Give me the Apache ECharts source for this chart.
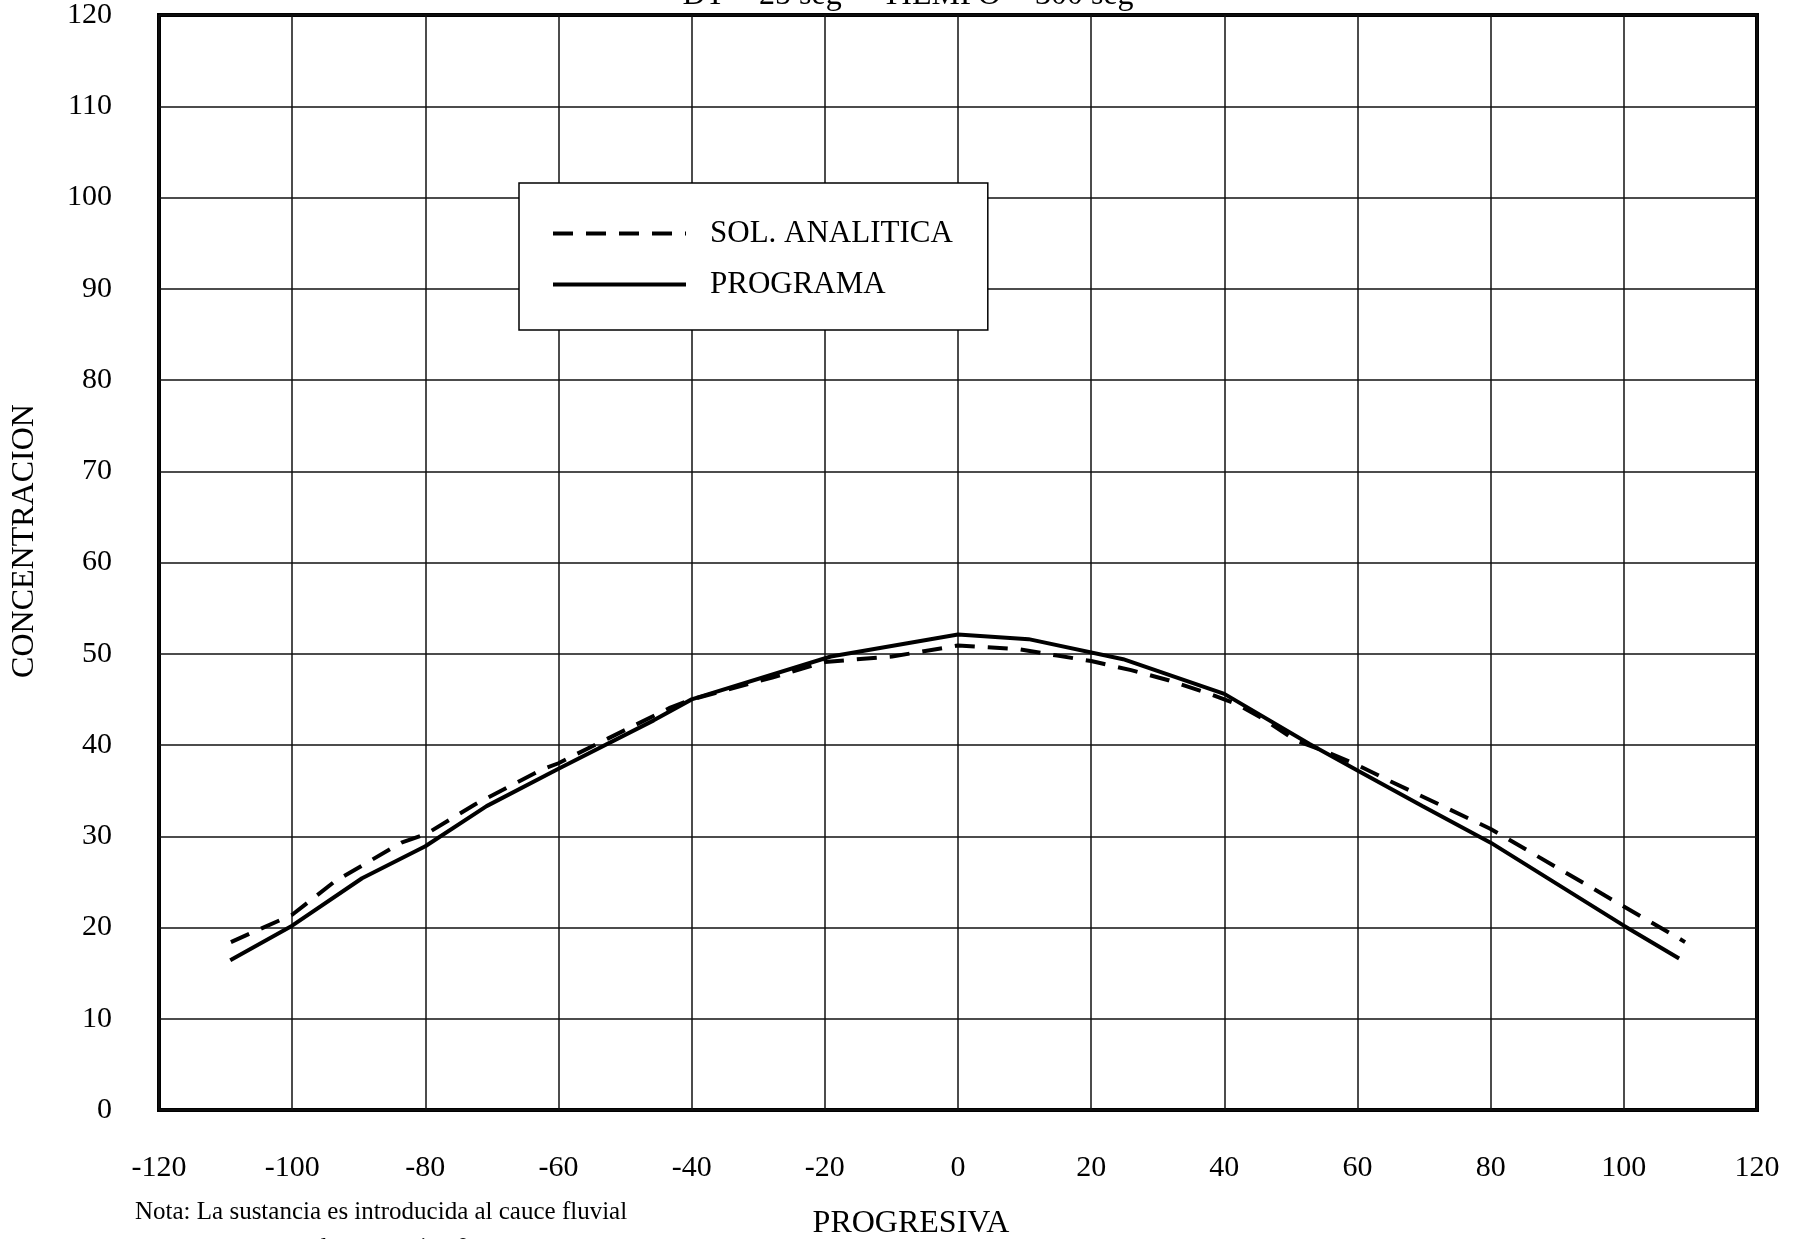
<!DOCTYPE html>
<html>
<head>
<meta charset="utf-8">
<script src="https://cdn.jsdelivr.net/npm/echarts@6/dist/echarts.min.js"></script>
<style>
  html, body { margin: 0; padding: 0; background: #fff; }
  #chart { width: 1797px; height: 1239px; }
</style>
</head>
<body>
<div id="chart"></div>
<script>
// Solucion analitica (linea de trazos)
const analiticaX = [-109.2, -100, -93.7, -83.6, -80, -72.5, -67.8, -62.5, -60, -57.3, -52.6, -47.9, -43.2, -40,
    -27.9, -20, -9.9, 0, 9.1, 14.9, 20, 26, 31.6, 37, 41.8, 46, 50.7, 55.5, 60, 65, 80, 100, 106.9, 109.2];
const analiticaY = [18.4, 21.4, 25.0, 29.3, 30.2, 33.5, 35.3, 37.3, 38.0, 39.0, 40.7, 42.4, 44.1, 45.0,
    47.4, 49.1, 49.7, 50.9, 50.5, 49.8, 49.2, 48.2, 47.1, 45.8, 44.5, 42.8, 40.5, 39.2, 37.8, 36.0, 30.8, 22.3, 19.4, 18.4];

// Resultado del programa (linea continua)
const programaX = [-109.3, -100, -89.5, -80, -70.8, -60, -45.7, -40, -19.1, 0, 10.6, 24.8, 40, 52.8, 60, 69.8, 80, 100, 108.3];
const programaY = [16.4, 20.2, 25.4, 28.9, 33.3, 37.4, 42.7, 45.0, 49.7, 52.1, 51.6, 49.4, 45.6, 40.1, 37.2, 33.3, 29.3, 20.2, 16.6];

const FONT = 'Liberation Serif';

const toPairs = (xs, ys) => xs.map((x, i) => [x, ys[i]]);

const chart = echarts.init(document.getElementById('chart'));

const option = {
    animation: false,
    grid: {
        left: 159,
        right: 40,
        top: 14,
        bottom: 129,
        show: true,
        borderColor: '#000',
        borderWidth: 4,
        backgroundColor: '#fff'
    },
    xAxis: {
        type: 'value',
        min: -120,
        max: 120,
        interval: 20,
        axisLine: { show: false },
        axisTick: { show: false },
        splitLine: { show: true, lineStyle: { color: '#111', width: 1.5 } },
        axisLabel: { margin: 43, color: '#000', fontFamily: FONT, fontSize: 30 }
    },
    yAxis: {
        type: 'value',
        min: 0,
        max: 120,
        interval: 10,
        axisLine: { show: false },
        axisTick: { show: false },
        splitLine: { show: true, lineStyle: { color: '#111', width: 1.5 } },
        axisLabel: { margin: 47, color: '#000', fontFamily: FONT, fontSize: 30 }
    },
    legend: {
        orient: 'vertical',
        left: 519,
        top: 183,
        backgroundColor: '#fff',
        borderColor: '#000',
        borderWidth: 1.5,
        padding: [35, 35, 30, 32],
        itemWidth: 133,
        itemHeight: 30,
        itemGap: 20,
        selectedMode: false,
        // hide the marker, keep only the line
        itemStyle: { opacity: 0 },
        lineStyle: { width: 4 },
        textStyle: { color: '#000', fontFamily: FONT, fontSize: 31, padding: [0, 0, 0, 19] },
        data: ['SOL. ANALITICA', 'PROGRAMA']
    },
    series: [
        {
            name: 'SOL. ANALITICA',
            type: 'line',
            symbol: 'none',
            data: toPairs(analiticaX, analiticaY),
            lineStyle: { color: '#000', width: 4, type: [20, 13] },
            itemStyle: { color: '#000' },
            z: 3
        },
        {
            name: 'PROGRAMA',
            type: 'line',
            symbol: 'none',
            data: toPairs(programaX, programaY),
            lineStyle: { color: '#000', width: 4 },
            itemStyle: { color: '#000' },
            z: 2
        }
    ],
    graphic: [
        {
            type: 'text', x: 908, y: 12,
            style: { text: 'DT = 25 seg     TIEMPO = 300 seg', font: '32px "' + FONT + '"', fill: '#000',
                textAlign: 'center', textVerticalAlign: 'bottom' }
        },
        {
            type: 'text', x: 25, y: 541, rotation: Math.PI / 2,
            style: { text: 'CONCENTRACION', font: '32px "' + FONT + '"', fill: '#000',
                textAlign: 'center', textVerticalAlign: 'middle' }
        },
        {
            type: 'text', x: 911, y: 1224,
            style: { text: 'PROGRESIVA', font: '32px "' + FONT + '"', fill: '#000',
                textAlign: 'center', textVerticalAlign: 'middle' }
        },
        {
            type: 'text', x: 135, y: 1212,
            style: { text: 'Nota: La sustancia es introducida al cauce fluvial', font: '25px "' + FONT + '"', fill: '#000',
                textAlign: 'left', textVerticalAlign: 'middle' }
        },
        {
            type: 'text', x: 380, y: 1248,
            style: { text: 'en la progresiva 0', font: '25px "' + FONT + '"', fill: '#000',
                textAlign: 'center', textVerticalAlign: 'middle' }
        }
    ]
};

chart.setOption(option);
</script>
</body>
</html>
